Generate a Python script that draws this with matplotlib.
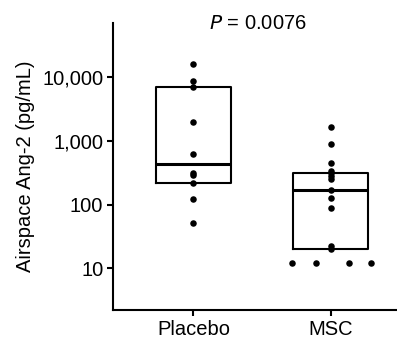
import numpy as np
import matplotlib
matplotlib.use("Agg")
import matplotlib.pyplot as plt
import matplotlib.ticker as mticker
import matplotlib.transforms as mtransforms

plt.rcParams["font.family"] = ["Liberation Sans", "DejaVu Sans"]

# ── data ──
groups = ["Placebo", "MSC"]

placebo_vals = [16000, 8750, 7130, 1960, 625, 318, 296, 217, 122, 51]
placebo_dx   = [0, 0, 0, 0, 0, 0, 0, 0, 0, 0]

msc_vals = [1660, 888, 447, 342, 312, 283, 256, 172, 126, 88, 22.7, 20,
            12, 12, 12, 12]
msc_dx   = [0, 0, 0, 0, 0, 0, 0, 0, 0, 0, 0, 0,
            -0.286, -0.107, 0.129, 0.289]

box_q1  = [221, 20.4]
box_med = [440, 172]
box_q3  = [6970, 318]

yticks = [10, 100, 1000, 10000]
p_text = "$\\it{P}$ = 0.0076"

fig = plt.figure(figsize=(3.97, 3.38), dpi=100)
ax = fig.add_axes([0.2846, 0.0828, 0.722, 0.849])

stats = []
for i, g in enumerate(groups):
    stats.append({
        "label": g, "q1": box_q1[i], "med": box_med[i], "q3": box_q3[i],
        "whislo": box_q1[i], "whishi": box_q3[i], "fliers": [],
    })
ax.bxp(stats, positions=[1, 2], widths=0.545, showcaps=False,
       showfliers=False,
       boxprops=dict(color="black", linewidth=1.5),
       medianprops=dict(color="black", linewidth=2.2),
       whiskerprops=dict(linewidth=0))

for pos, vals, dx in [(1, placebo_vals, placebo_dx), (2, msc_vals, msc_dx)]:
    xs = pos + np.array(dx)
    ax.scatter(xs, vals, s=22, color="black", zorder=3, linewidths=0)

ax.set_yscale("log")
ax.set_ylim(2.22, 71100)
ax.set_xlim(0.4145, 2.5)
ax.yaxis.set_major_locator(mticker.FixedLocator(yticks))
ax.yaxis.set_minor_locator(mticker.NullLocator())
ax.yaxis.set_major_formatter(mticker.FuncFormatter(lambda v, _: f"{v:,.0f}"))
ax.set_xticks([1, 2])
ax.set_xticklabels(groups)

for s in ["top", "right"]:
    ax.spines[s].set_visible(False)
for s in ["left", "bottom"]:
    ax.spines[s].set_linewidth(1.5)
ax.tick_params(axis="both", labelsize=14.5, width=1.5, length=4, pad=3)

ax.set_ylabel("Airspace Ang-2 (pg/mL)", fontsize=14.5, labelpad=5)

trans = mtransforms.blended_transform_factory(ax.transData, ax.transAxes)
ax.text(1.47, 1.0, p_text, transform=trans, ha="center", va="center",
        fontsize=14.5)

fig.savefig("out.png", dpi=100)
